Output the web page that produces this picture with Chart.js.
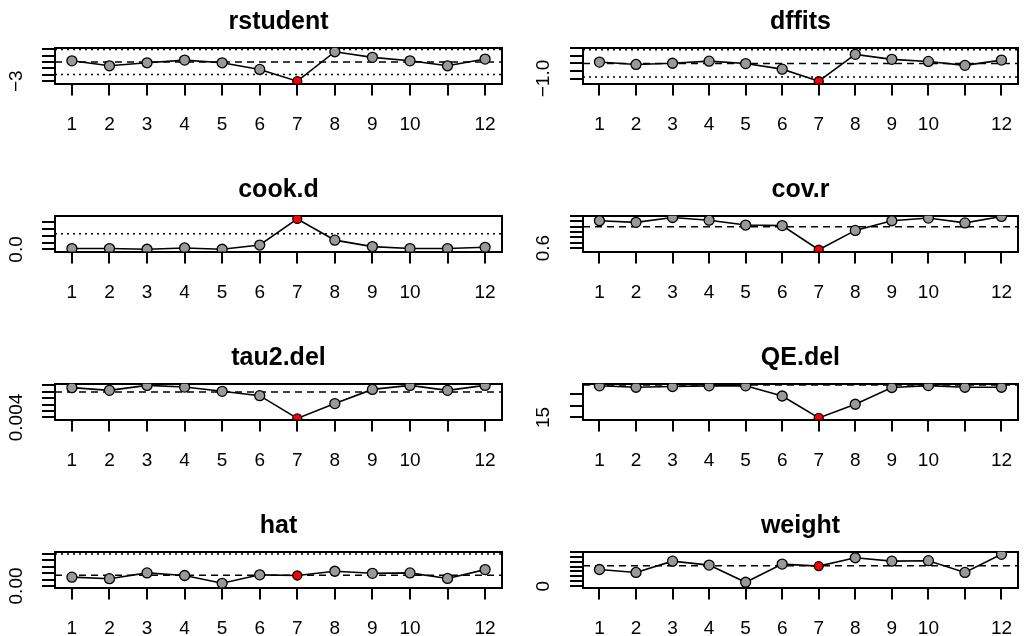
<!DOCTYPE html>
<html lang="en">
<head>
  <meta charset="UTF-8" />
  <title>Influence diagnostics</title>
  <script src="https://cdn.jsdelivr.net/npm/chart.js"></script>
  <style>
    html, body { margin: 0; padding: 0; background: #fff; overflow: hidden; }
    #page { position: relative; width: 1029px; height: 636px; overflow: hidden; }
    #page canvas { position: absolute; }
  </style>
</head>
<body>
  <div id="page"></div>

  <script>
    // studies on the x axis (label 11 is dropped, as in the original)
    const studies = [1, 2, 3, 4, 5, 6, 7, 8, 9, 10, 11, 12];
    const xTickLabels = ['1', '2', '3', '4', '5', '6', '7', '8', '9', '10', '', '12'];
    const flagged = 7;

    // values
    const rstudent = [0.20, -0.58, -0.11, 0.31, -0.11, -1.15, -2.99, 1.62, 0.74, 0.20, -0.58, 0.47];
    const dffits   = [0.09, -0.07, 0.01, 0.15, -0.01, -0.38, -1.18, 0.60, 0.27, 0.13, -0.13, 0.22];
    const cookD    = [0.026, 0.026, 0.006, 0.043, 0.006, 0.128, 0.886, 0.27, 0.082, 0.026, 0.026, 0.062];
    const covR     = [1.11, 1.08, 1.17, 1.12, 1.03, 1.02, 0.57, 0.93, 1.11, 1.16, 1.07, 1.19];
    const tau2Del  = [0.00862, 0.00820, 0.00897, 0.00871, 0.00805, 0.00738, 0.00385, 0.00615, 0.00835, 0.00897, 0.00820, 0.00897];
    const qeDel    = [28.4, 27.8, 28.1, 28.4, 28.4, 24.1, 14.8, 20.6, 27.7, 28.5, 27.8, 27.8];
    const hat      = [0.069, 0.057, 0.102, 0.082, 0.021, 0.087, 0.082, 0.115, 0.099, 0.102, 0.059, 0.128];
    const weight   = [6.8, 5.6, 10.2, 8.6, 1.6, 9.0, 8.2, 11.6, 10.2, 10.4, 5.6, 13.0];

    // y tick positions (only the first label fits, the rest overlap)
    const rstudentTicks = [-3, -2, -1, 0, 1, 2];
    const dffitsTicks   = [-1, -0.5, 0, 0.5, 1];
    const cookDTicks    = [0, 0.2, 0.4, 0.6, 0.8];
    const covRTicks     = [0.6, 0.7, 0.8, 0.9, 1.0, 1.1, 1.2];
    const tau2Ticks     = [0.004, 0.005, 0.006, 0.007, 0.008, 0.009];
    const qeTicks       = [15, 20, 25];
    const hatTicks      = [0, 0.05, 0.10, 0.15, 0.20, 0.25];
    const weightTicks   = [0, 2, 4, 6, 8, 10, 12, 14];

    // reference lines
    const rstudentDashed = [0],       rstudentDotted = [-1.96, 1.96];
    const dffitsDashed   = [0],       dffitsDotted   = [-0.905, 0.905];
    const cookDDashed    = [],        cookDDotted    = [0.455];
    const covRDashed     = [1],       covRDotted     = [];
    const tau2Dashed     = [0.00794], tau2Dotted     = [];
    const qeDashed       = [28.8],    qeDotted       = [];
    const hatDashed      = [1 / 12],  hatDotted      = [0.25];
    const weightDashed   = [100 / 12], weightDotted  = [];

    const panels = [
      { title: 'rstudent',  values: rstudent, ticks: rstudentTicks, label: '\u22123',   min: -3.35,   max: 2.25,    dashed: rstudentDashed, dotted: rstudentDotted },
      { title: 'dffits',    values: dffits,   ticks: dffitsTicks,   label: '\u22121.0', min: -1.33,   max: 1.04,    dashed: dffitsDashed,   dotted: dffitsDotted },
      { title: 'cook.d',    values: cookD,    ticks: cookDTicks,    label: '0.0',       min: -0.06,   max: 0.98,    dashed: cookDDashed,    dotted: cookDDotted },
      { title: 'cov.r',     values: covR,     ticks: covRTicks,     label: '0.6',       min: 0.537,   max: 1.204,   dashed: covRDashed,     dotted: covRDotted },
      { title: 'tau2.del',  values: tau2Del,  ticks: tau2Ticks,     label: '0.004',     min: 0.00369, max: 0.00923, dashed: tau2Dashed,     dotted: tau2Dotted },
      { title: 'QE.del',    values: qeDel,    ticks: qeTicks,       label: '15',        min: 14.14,   max: 29.3,    dashed: qeDashed,       dotted: qeDotted },
      { title: 'hat',       values: hat,      ticks: hatTicks,      label: '0.00',      min: -0.012,  max: 0.268,   dashed: hatDashed,      dotted: hatDotted },
      { title: 'weight',    values: weight,   ticks: weightTicks,   label: '0',         min: -0.53,   max: 14.06,   dashed: weightDashed,   dotted: weightDotted }
    ];

    const xMin = 0.55, xMax = 12.45;
    const fontFamily = '"Liberation Sans", Arial, Helvetica, sans-serif';
    Chart.defaults.font.family = fontFamily;
    Chart.defaults.color = '#000';

    const meas = document.createElement('canvas').getContext('2d');
    meas.font = '19px ' + fontFamily;

    function refLine(v, dash) {
      return {
        data: [{ x: xMin, y: v }, { x: xMax, y: v }],
        borderColor: '#000',
        borderWidth: 1.5,
        borderDash: dash,
        pointRadius: 0
      };
    }

    function makePanel(p, idx) {
      const col = idx % 2;
      const row = Math.floor(idx / 2);
      const cv = document.createElement('canvas');
      cv.width = 515;
      cv.height = 132;
      cv.style.left = (col * 515) + 'px';
      cv.style.top = (row * 168) + 'px';
      document.getElementById('page').appendChild(cv);

      const axisW = col === 0 ? 55 : 68;
      const labelCenter = col === 0 ? 38 : 39.5;
      const labelPad = labelCenter - 13 - meas.measureText(p.label).width / 2;

      const refs = [];
      p.dashed.forEach(v => refs.push(refLine(v, [7, 5])));
      p.dotted.forEach(v => refs.push(refLine(v, [2, 4])));

      new Chart(cv, {
        type: 'line',
        data: {
          datasets: [
            {
              data: studies.map((s, i) => ({ x: s, y: p.values[i] })),
              borderColor: '#000',
              borderWidth: 1.6,
              tension: 0,
              pointRadius: studies.map(s => s === flagged ? 4.5 : 5),
              pointBackgroundColor: studies.map(s => s === flagged ? '#ff0000' : '#999999'),
              pointBorderColor: '#000',
              pointBorderWidth: 1.3
            },
            ...refs
          ]
        },
        options: {
          responsive: false,
          animation: false,
          layout: { padding: { left: 0, right: col === 0 ? 13 : 0, top: 0, bottom: 0 } },
          plugins: {
            legend: { display: false },
            tooltip: { enabled: false },
            title: {
              display: true,
              text: p.title,
              fullSize: false,
              color: '#000',
              font: { size: 25, weight: 'bold' },
              padding: { top: 7.2, bottom: 10.5 }
            }
          },
          scales: {
            x: {
              type: 'linear',
              min: xMin,
              max: xMax,
              afterBuildTicks: s => { s.ticks = studies.map(v => ({ value: v })); },
              afterFit: s => { s.height = 48.5; },
              ticks: {
                autoSkip: false,
                maxRotation: 0,
                padding: 17.5,
                color: '#000',
                font: { size: 19 },
                callback: (v, i) => xTickLabels[i]
              },
              grid: { drawOnChartArea: false, drawTicks: true, tickLength: 12, color: '#000', lineWidth: 2 },
              border: { display: true, color: '#000', width: 2 }
            },
            y: {
              min: p.min,
              max: p.max,
              afterBuildTicks: s => { s.ticks = p.ticks.map(v => ({ value: v })); },
              afterFit: s => { s.width = axisW; },
              ticks: {
                autoSkip: false,
                minRotation: 90,
                maxRotation: 90,
                crossAlign: 'center',
                padding: labelPad,
                color: '#000',
                font: { size: 19 },
                callback: (v, i) => i === 0 ? p.label : ''
              },
              grid: { drawOnChartArea: false, drawTicks: true, tickLength: 13, color: '#000', lineWidth: 2 },
              border: { display: true, color: '#000', width: 2 }
            },
            x2: {
              type: 'linear',
              axis: 'x',
              position: 'top',
              display: true,
              afterFit: s => { s.height = 0; },
              ticks: { display: false },
              grid: { display: false, drawTicks: false },
              border: { display: true, color: '#000', width: 2 }
            },
            y2: {
              type: 'linear',
              axis: 'y',
              position: 'right',
              display: true,
              afterFit: s => { s.width = 0; },
              ticks: { display: false },
              grid: { display: false, drawTicks: false },
              border: { display: true, color: '#000', width: 2 }
            }
          }
        }
      });
    }

    panels.forEach(makePanel);
  </script>
</body>
</html>
